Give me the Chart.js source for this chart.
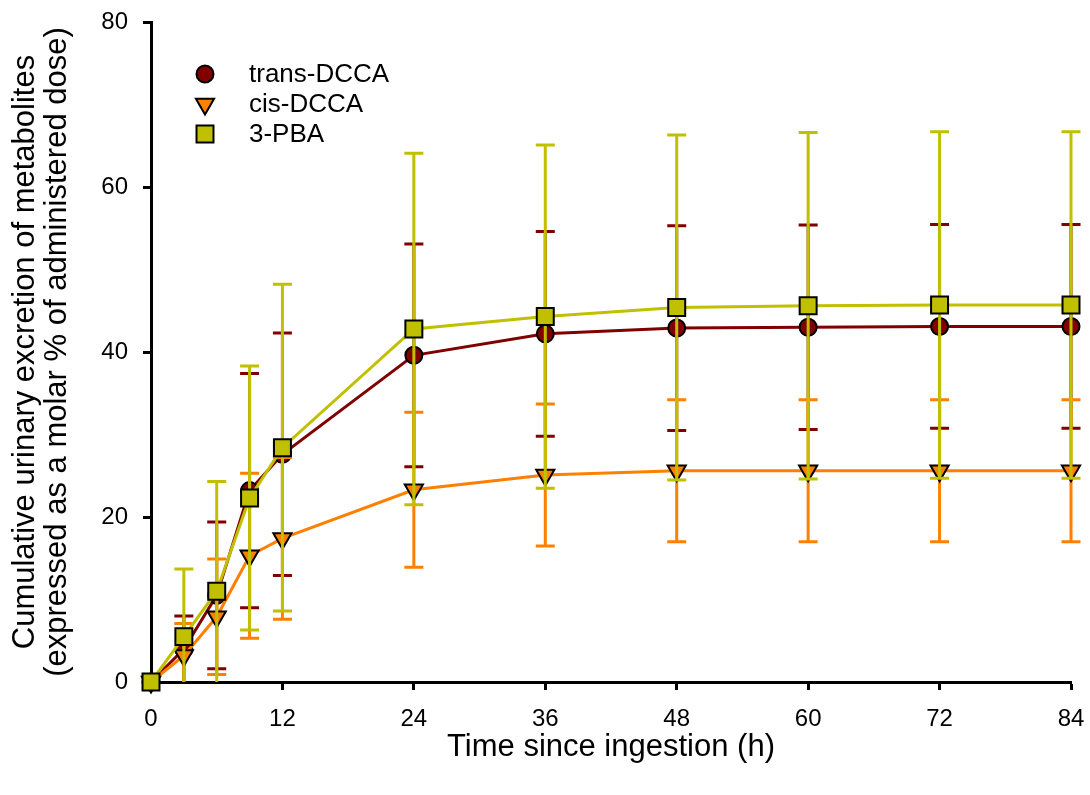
<!DOCTYPE html>
<html>
<head>
<meta charset="utf-8">
<script src="https://cdn.jsdelivr.net/npm/chart.js@4"></script>
<style>
  html, body { margin: 0; padding: 0; background: #fff; }
  #wrap { width: 1090px; height: 795px; position: relative; }
</style>
</head>
<body>
<div id="wrap"><canvas id="myChart"></canvas></div>
<script>
// data (mean and SD per time point)
const times = [0, 3, 6, 9, 12, 24, 36, 48, 60, 72, 84];
const xTicks = [0, 12, 24, 36, 48, 60, 72, 84];

const transMean = [0, 4.0, 10.5, 23.2, 27.6, 39.6, 42.2, 42.9, 43.0, 43.1, 43.1];
const transSd   = [0, 4.0, 8.9, 14.2, 14.7, 13.5, 12.4, 12.4, 12.4, 12.35, 12.35];

const cisMean = [0, 3.2, 7.9, 15.3, 17.4, 23.3, 25.1, 25.6, 25.6, 25.6, 25.6];
const cisSd   = [0, 3.9, 7.0, 10.0, 9.8, 9.4, 8.6, 8.6, 8.6, 8.6, 8.6];

const pbaMean = [0, 5.5, 11.0, 22.3, 28.4, 42.8, 44.3, 45.4, 45.6, 45.7, 45.7];
const pbaSd   = [0, 8.2, 13.3, 16.0, 19.8, 21.3, 20.8, 20.9, 21.0, 21.0, 21.0];

const FONT = "'Liberation Sans', Arial, sans-serif";

function pts(means) {
  return times.map((t, i) => ({ x: t, y: means[i] }));
}

// error bars drawn just before each dataset so its own markers sit on top
const errorBars = {
  id: "errorBars",
  beforeDatasetDraw(chart, args) {
    const ds = chart.data.datasets[args.index];
    if (!ds.sd) return;
    const xs = chart.scales.x, ys = chart.scales.y;
    const c = chart.ctx;
    c.save();
    c.strokeStyle = ds.borderColor;
    c.lineWidth = 3;
    const cap = 9.5;
    ds.data.forEach((p, i) => {
      const s = ds.sd[i];
      if (!s) return;
      const x = xs.getPixelForValue(p.x);
      const hiV = p.y + s, loV = p.y - s;
      const yHi = ys.getPixelForValue(hiV);
      const yLo = ys.getPixelForValue(Math.max(loV, 0));
      c.beginPath();
      c.moveTo(x, yHi); c.lineTo(x, yLo);
      c.moveTo(x - cap, yHi); c.lineTo(x + cap, yHi);
      if (loV > 0) { c.moveTo(x - cap, yLo); c.lineTo(x + cap, yLo); }
      c.stroke();
    });
    c.restore();
  }
};

// legend inside the plot, top-left
const insideLegend = {
  id: "insideLegend",
  afterDraw(chart) {
    const c = chart.ctx;
    const x0 = 205, y0 = 74, gap = 30;
    chart.data.datasets.forEach((ds, i) => {
      const y = y0 + i * gap;
      c.save();
      c.fillStyle = ds.pointBackgroundColor;
      c.strokeStyle = "#000";
      c.lineWidth = 2;
      Chart.helpers.drawPoint(c, {
        pointStyle: ds.pointStyle,
        radius: ds.pointRadius,
        rotation: ds.pointRotation || 0,
        borderWidth: 2
      }, x0, y);
      c.fillStyle = "#000";
      c.font = "26px " + FONT;
      c.textBaseline = "middle";
      c.fillText(ds.label, 249, y + 1);
      c.restore();
    });
  }
};

const config = {
  type: "line",
  data: {
    datasets: [
      {
        label: "trans-DCCA",
        data: pts(transMean),
        sd: transSd,
        borderColor: "#800000",
        backgroundColor: "#800000",
        pointBackgroundColor: "#800000",
        pointBorderColor: "#000",
        pointBorderWidth: 2,
        pointStyle: "circle",
        pointRadius: 8.5,
        borderWidth: 3,
        order: 3,
        clip: false
      },
      {
        label: "cis-DCCA",
        data: pts(cisMean),
        sd: cisSd,
        borderColor: "#FF8000",
        backgroundColor: "#FF8000",
        pointBackgroundColor: "#FF8000",
        pointBorderColor: "#000",
        pointBorderWidth: 2,
        pointStyle: "triangle",
        pointRotation: 180,
        pointRadius: 10.5,
        borderWidth: 3,
        order: 2,
        clip: false
      },
      {
        label: "3-PBA",
        data: pts(pbaMean),
        sd: pbaSd,
        borderColor: "#C0C000",
        backgroundColor: "#C0C000",
        pointBackgroundColor: "#C0C000",
        pointBorderColor: "#000",
        pointBorderWidth: 2,
        pointStyle: "rect",
        pointRadius: 12,
        borderWidth: 3,
        order: 1,
        clip: false
      }
    ]
  },
  options: {
    responsive: false,
    animation: false,
    layout: { padding: { top: 22, right: 19, left: 0, bottom: 0 } },
    plugins: {
      legend: { display: false },
      tooltip: { enabled: false }
    },
    scales: {
      x: {
        type: "linear",
        min: 0,
        max: 84,
        afterBuildTicks: (s) => { s.ticks = xTicks.map(v => ({ value: v })); },
        afterFit: (s) => { s.height = 113; s.paddingLeft = 0; s.paddingRight = 0; },
        border: { display: true, color: "#000", width: 3 },
        grid: { drawOnChartArea: false, color: "#000", tickLength: 8, tickWidth: 3 },
        ticks: { color: "#000", font: { family: FONT, size: 24 }, padding: 15 },
        title: {
          display: true,
          text: "Time since ingestion (h)",
          color: "#000",
          font: { family: FONT, size: 31 },
          padding: { top: 10, bottom: 29 }
        }
      },
      y: {
        min: 0,
        max: 80,
        ticks: { stepSize: 20, color: "#000", font: { family: FONT, size: 24 }, padding: 15 },
        afterFit: (s) => { s.width = 151; s.paddingTop = 0; s.paddingBottom = 0; },
        border: { display: true, color: "#000", width: 3 },
        grid: { drawOnChartArea: false, color: "#000", tickLength: 8, tickWidth: 3 },
        title: {
          display: true,
          text: ["Cumulative urinary excretion of metabolites", "(expressed as a molar % of administered dose)"],
          color: "#000",
          font: { family: FONT, size: 31, lineHeight: 1.05 },
          padding: { top: 9, bottom: 0 }
        }
      }
    }
  },
  plugins: [errorBars, insideLegend]
};

const canvas = document.getElementById("myChart");
canvas.width = 1090;
canvas.height = 795;
const chart = new Chart(canvas.getContext("2d"), config);
</script>
</body>
</html>
